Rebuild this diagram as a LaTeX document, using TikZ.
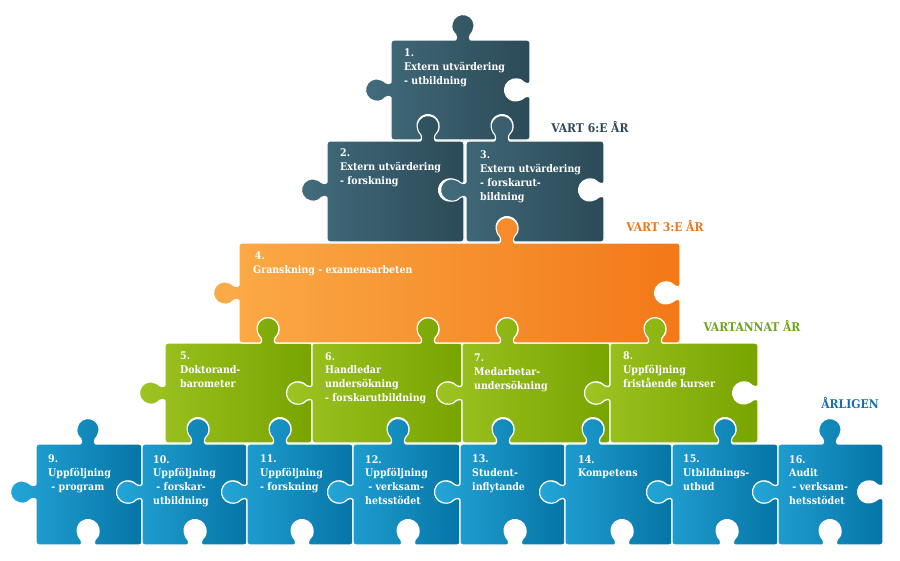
\documentclass[tikz,border=0pt]{standalone}
\usepackage{fontspec}
\setmainfont{DejaVu Serif Condensed}
\definecolor{darkL}{RGB}{66,108,124}
\definecolor{darkR}{RGB}{44,74,87}
\definecolor{orL}{RGB}{250,172,72}
\definecolor{orR}{RGB}{243,120,24}
\definecolor{grL}{RGB}{158,196,34}
\definecolor{grR}{RGB}{120,164,0}
\definecolor{blL}{RGB}{36,166,216}
\definecolor{blR}{RGB}{6,116,166}
\definecolor{darkT}{RGB}{46,72,86}
\definecolor{orT}{RGB}{240,118,26}
\definecolor{grT}{RGB}{108,164,30}
\definecolor{blT}{RGB}{24,108,176}
% knob macros: center, edge coordinate, sign (1 = tab out, -1 = notch in)
\newcommand\tT[3]{-- ({#1-11},#2) .. controls ({#1-6.5},#2) and ({#1-6.5},{#2-2.5*(#3)}) .. ({#1-6.5},{#2-5.6*(#3)})
 arc[start angle={180-53.9*(#3)}, delta angle={287.8*(#3)}, radius=11]
 .. controls ({#1+6.5},{#2-2.5*(#3)}) and ({#1+6.5},#2) .. ({#1+11},#2)}
\newcommand\tR[3]{-- (#2,{#1-11}) .. controls (#2,{#1-6.5}) and ({#2+2.5*(#3)},{#1-6.5}) .. ({#2+5.6*(#3)},{#1-6.5})
 arc[start angle={270-53.9*(#3)}, delta angle={287.8*(#3)}, radius=11]
 .. controls ({#2+2.5*(#3)},{#1+6.5}) and (#2,{#1+6.5}) .. (#2,{#1+11})}
\newcommand\tB[3]{-- ({#1+11},#2) .. controls ({#1+6.5},#2) and ({#1+6.5},{#2+2.5*(#3)}) .. ({#1+6.5},{#2+5.6*(#3)})
 arc[start angle={360-53.9*(#3)}, delta angle={287.8*(#3)}, radius=11]
 .. controls ({#1-6.5},{#2+2.5*(#3)}) and ({#1-6.5},#2) .. ({#1-11},#2)}
\newcommand\tL[3]{-- (#2,{#1+11}) .. controls (#2,{#1+6.5}) and ({#2-2.5*(#3)},{#1+6.5}) .. ({#2-5.6*(#3)},{#1+6.5})
 arc[start angle={90-53.9*(#3)}, delta angle={287.8*(#3)}, radius=11]
 .. controls ({#2-2.5*(#3)},{#1-6.5}) and (#2,{#1-6.5}) .. (#2,{#1-11})}
\tikzset{
  piece/.style={draw=white, line width=1.1pt, rounded corners=3pt},
  dark/.style={left color=darkL, right color=darkR},
  orng/.style={left color=orL, right color=orR},
  grn/.style={left color=grL, right color=grR},
  blu/.style={left color=blL, right color=blR},
  ptxt/.style={anchor=north west, inner sep=0pt, align=left, text=white,
    font=\bfseries\fontsize{10.5}{13.8}\selectfont},
  tier/.style={anchor=center, inner sep=0pt, font=\bfseries\fontsize{12}{14}\selectfont}
}
\begin{document}
\begin{tikzpicture}[x=1pt,y=-1pt]
\useasboundingbox (0,0) rectangle (900,560);
% ---- row 4 blue ----
\draw[piece,blu] (36,444) \tT{88}{444}{1} -- (142,444) \tR{492}{142}{-1} -- (142,545) \tB{88}{545}{-1} -- (36,545) \tL{492}{36}{1} -- cycle;
\draw[piece,blu] (142,444) \tT{198}{444}{1} -- (247,444) \tR{492}{247}{-1} -- (247,545) \tB{195}{545}{-1} -- (142,545) \tL{492}{142}{1} -- cycle;
\draw[piece,blu] (247,444) \tT{280}{444}{1} -- (353,444) \tR{492}{353}{-1} -- (353,545) \tB{302}{545}{-1} -- (247,545) \tL{492}{247}{1} -- cycle;
\draw[piece,blu] (353,444) \tT{398}{444}{1} -- (460,444) \tR{492}{460}{-1} -- (460,545) \tB{408}{545}{-1} -- (353,545) \tL{492}{353}{1} -- cycle;
\draw[piece,blu] (460,444) \tT{503}{444}{1} -- (565,444) \tR{492}{565}{-1} -- (565,545) \tB{515}{545}{-1} -- (460,545) \tL{492}{460}{1} -- cycle;
\draw[piece,blu] (565,444) \tT{593}{444}{1} -- (672,444) \tR{492}{672}{-1} -- (672,545) \tB{622}{545}{-1} -- (565,545) \tL{492}{565}{1} -- cycle;
\draw[piece,blu] (672,444) \tT{725}{444}{1} -- (778,444) \tR{492}{778}{-1} -- (778,545) \tB{727}{545}{-1} -- (672,545) \tL{492}{672}{1} -- cycle;
\draw[piece,blu] (778,444) \tT{830}{444}{1} -- (883,444) \tR{492}{883}{-1} -- (883,545) \tB{830}{545}{-1} -- (778,545) \tL{492}{778}{1} -- cycle;
% ---- row 3 green ----
\draw[piece,grn] (165,343) \tT{268}{343}{1} -- (312,343) \tR{393}{312}{-1} -- (312,443) \tB{280}{443}{-1} \tB{198}{443}{-1} -- (165,443) \tL{393}{165}{1} -- cycle;
\draw[piece,grn] (312,343) \tT{428}{343}{1} -- (462,343) \tR{393}{462}{-1} -- (462,443) \tB{398}{443}{-1} -- (312,443) \tL{393}{312}{1} -- cycle;
\draw[piece,grn] (462,343) \tT{507}{343}{1} -- (610,343) \tR{393}{610}{-1} -- (610,443) \tB{593}{443}{-1} \tB{503}{443}{-1} -- (462,443) \tL{393}{462}{1} -- cycle;
\draw[piece,grn] (610,343) \tT{655}{343}{1} -- (758,343) \tR{393}{758}{-1} -- (758,443) \tB{725}{443}{-1} -- (610,443) \tL{393}{610}{1} -- cycle;
% ---- row 2 orange ----
\draw[piece,orng] (239,243) \tT{507}{243}{1} -- (680,243) \tR{293}{680}{-1} -- (680,343) \tB{655}{343}{-1} \tB{507}{343}{-1} \tB{428}{343}{-1} \tB{268}{343}{-1} -- (239,343) \tL{293}{239}{1} -- cycle;
% ---- row 1 dark ----
\draw[piece,dark] (327,141) \tT{428}{141}{1} -- (464,141) \tR{190}{464}{-1} -- (464,242) -- (327,242) \tL{190}{327}{1} -- cycle;
\draw[piece,dark] (466,141) \tT{502}{141}{1} -- (604,141) \tR{190}{604}{-1} -- (604,242) \tB{507}{242}{-1} -- (466,242) \tL{190}{466}{1} -- cycle;
\draw[piece,dark] (391,40) \tT{463}{40}{1} -- (530,40) \tR{90}{530}{-1} -- (530,140) \tB{502}{140}{-1} \tB{428}{140}{-1} -- (391,140) \tL{90}{391}{1} -- cycle;
% ---- texts ----
\node[ptxt] (t1) at (404,49) {1.\\Extern utvärdering\\- utbildning};
\node[ptxt] (t2) at (340,149) {2.\\Extern utvärdering\\- forskning};
\node[ptxt] (t3) at (480,151) {3.\\Extern utvärdering\\- forskarut-\\bildning};
\node[ptxt] (t4) at (253,252) {\,4.\\Granskning - examensarbeten};
\node[ptxt] (t5) at (180,352) {5.\\Doktorand-\\barometer};
\node[ptxt] (t6) at (325,352) {6.\\Handledar\\undersökning\\- forskarutbildning};
\node[ptxt] (t7) at (474,354) {7.\\Medarbetar-\\undersökning};
\node[ptxt] (t8) at (623,352) {8.\\Uppföljning\\fristående kurser};
\node[ptxt] (t9) at (48,455) {9.\\Uppföljning\\\ - program};
\node[ptxt] (t10) at (153,455) {10.\\Uppföljning\\\ - forskar-\\utbildning};
\node[ptxt] (t11) at (260,455) {11.\\Uppföljning\\- forskning};
\node[ptxt] (t12) at (365,455) {12.\\Uppföljning\\\ - verksam-\\hetsstödet};
\node[ptxt] (t13) at (472,455) {13.\\Student-\\inflytande};
\node[ptxt] (t14) at (578,455) {14.\\Kompetens};
\node[ptxt] (t15) at (683,455) {15.\\Utbildnings-\\utbud};
\node[ptxt] (t16) at (789,455) {16.\\Audit\\\ - verksam-\\hetsstödet};
% ---- tier labels ----
\node[tier,text=darkT] (l6) at (590,127) {VART 6:E ÅR};
\node[tier,text=orT] (l3) at (665,226) {VART 3:E ÅR};
\node[tier,text=grT] (l2) at (752,326) {VARTANNAT ÅR};
\node[tier,text=blT] (l1) at (850,403) {ÅRLIGEN};
\end{tikzpicture}
\end{document}
